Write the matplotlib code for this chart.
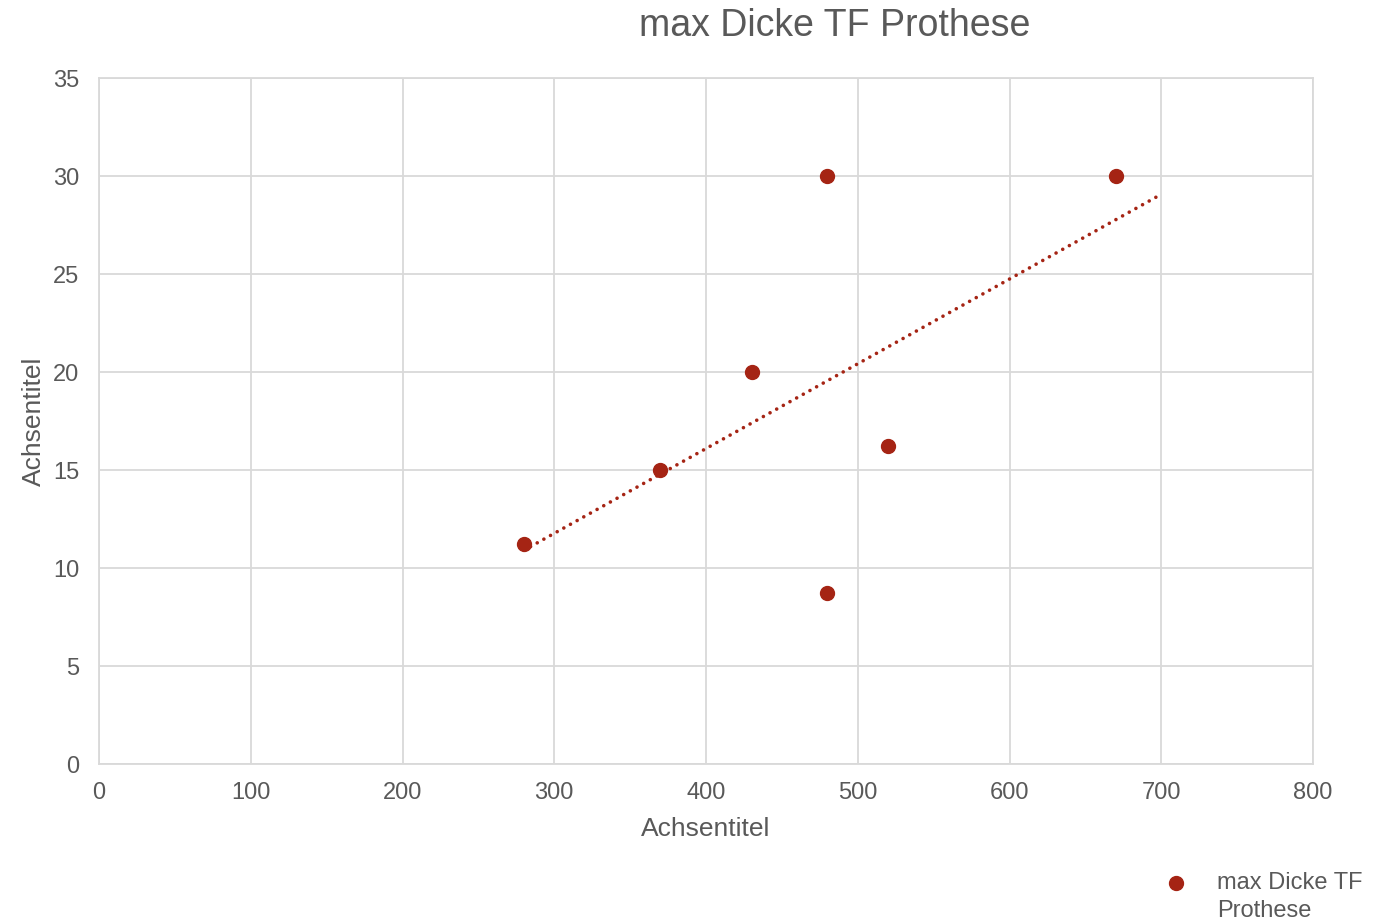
import numpy as np
import matplotlib
matplotlib.use("Agg")
import matplotlib.pyplot as plt
from matplotlib.lines import Line2D

# Data
x_vals = [280, 370, 430, 480, 480, 520, 670]
y_vals = [11.25, 15, 20, 30, 8.75, 16.25, 30]
trend_x_end = 700
series_name = "max Dicke TF\nProthese"
title = "max Dicke TF Prothese"
x_label = "Achsentitel"
y_label = "Achsentitel"
x_ticks = [0, 100, 200, 300, 400, 500, 600, 700, 800]
y_ticks = [0, 5, 10, 15, 20, 25, 30, 35]

plt.rcParams['font.family'] = ['Liberation Sans', 'DejaVu Sans']
color = '#A52414'
text_color = '#595959'
grid_color = '#D9D9D9'

W, H = 1376, 922
fig = plt.figure(figsize=(W / 100, H / 100), dpi=100)
ax = fig.add_axes([99 / W, 1 - 764 / H, (1313 - 99) / W, (764 - 78) / H])

ax.set_xlim(0, 800)
ax.set_ylim(0, 35)
ax.set_xticks(x_ticks)
ax.set_yticks(y_ticks)
ax.grid(True, color=grid_color, linewidth=1.3)
ax.set_axisbelow(True)
for s in ax.spines.values():
    s.set_color(grid_color)
    s.set_linewidth(1.3)
ax.tick_params(length=0, labelsize=17, colors=text_color)
ax.tick_params(axis='y', pad=14)
ax.tick_params(axis='x', pad=13)

# trendline
coef = np.polyfit(x_vals, y_vals, 1)
tx = np.array([min(x_vals), trend_x_end])
ax.plot(tx, np.polyval(coef, tx), color=color, linewidth=2.6,
        linestyle=(0, (0.01, 2.1)), dash_capstyle='round', zorder=2)

ax.plot(x_vals, y_vals, linestyle='none', marker='o', markersize=10,
        color=color, zorder=3)

ax.set_xlabel(x_label, fontsize=19, color=text_color, labelpad=9)
ax.set_ylabel(y_label, fontsize=19, color=text_color, labelpad=5)

fig.text(835 / W, 1 - 26 / H, title, ha='center', va='center',
         fontsize=27, color=text_color)

# legend
fig.add_artist(Line2D([1176 / W], [1 - 883 / H], marker='o', markersize=10,
                      color=color, linestyle='none', transform=fig.transFigure))
fig.text(1217 / W, 1 - 872 / H, series_name, ha='left', va='top',
         fontsize=17, color=text_color, linespacing=1.38,
         transform=fig.transFigure)

fig.savefig('out.png', dpi=100)
